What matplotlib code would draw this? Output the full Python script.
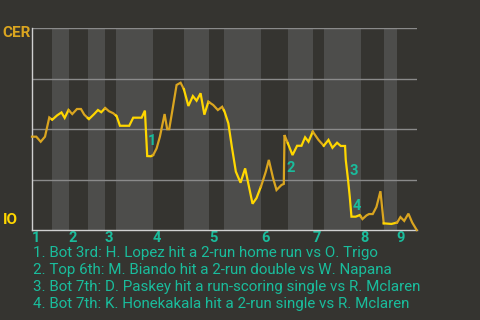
import matplotlib
matplotlib.use('Agg')
import matplotlib.pyplot as plt
import numpy as np

plt.rcParams['font.family'] = ['Roboto', 'DejaVu Sans']

# ---- data ----
half_starts = [0, 20, 37, 56, 73, 84, 121, 152, 177, 192, 229, 256, 281, 292, 329, 352, 365]
game_end = 385
inning_labels = ['1', '2', '3', '4', '5', '6', '7', '8', '9']

progress = [0, 4.3, 8.7, 13, 17.3, 20.3, 25, 29.5, 32.7, 36.5, 40.3, 45, 49, 52.3, 57, 62, 66,
            69.3, 73.3, 77, 81.3, 84.7, 88, 97.3, 101.3, 109.7, 113, 115.3, 119, 121.3, 124.7,
            128, 132.7, 135.3, 137.3, 140, 144.7, 148.7, 152, 156.5, 161, 164.7, 168.7, 172.5,
            176.5, 181.3, 186, 190.3, 192.7, 196.5, 200, 204, 208.7, 213.3, 220.7, 224.7, 229.7,
            234, 237, 241.3, 244.7, 249.7, 252, 252.7, 254.7, 260.7, 265.3, 269.7, 273.3, 276.7,
            281, 286.7, 292, 296.7, 300.7, 305.3, 309, 313.3, 314, 316.3, 318, 319.7, 324, 328,
            330.7, 334.7, 337.3, 341, 344.7, 348.7, 352, 359.7, 365.5, 368.7, 372.5, 376.7,
            380.5, 385]
cer_win_pct = [46.2, 46.2, 43.7, 46.2, 55.7, 54.6, 56.7, 58.2, 55.5, 59.4, 57.4, 59.9, 59.9,
               57.1, 54.9, 57.3, 59.4, 58.3, 60.4, 58.8, 57.8, 56.4, 51.6, 51.6, 55.6, 55.6,
               59.1, 36.6, 36.5, 37.1, 40.4, 46.2, 57.4, 49.9, 49.9, 57.8, 71.8, 72.9, 69.7,
               61.4, 66.3, 64.0, 67.7, 57.1, 63.5, 61.9, 59.4, 61.0, 58.6, 52.8, 41.2, 28.9,
               23.4, 30.5, 13.0, 15.8, 22.3, 28.9, 34.7, 25.6, 19.8, 22.3, 22.8, 47.0, 44.6,
               37.1, 41.7, 41.7, 45.9, 43.7, 48.7, 44.6, 41.7, 44.6, 40.7, 43.2, 41.6, 41.6,
               34.7, 24.8, 16.5, 6.6, 6.6, 7.4, 5.4, 7.2, 7.9, 7.9, 11.4, 19.2, 3.3, 3.0, 3.7,
               6.4, 4.5, 8.1, 3.7, 0.0]

event_ids = ['1', '2', '3', '4']
event_x = [114.5, 252.5, 316.0, 319.0]
event_y = [48.0, 34.7, 33.2, 15.8]
event_text = [
    '1. Bot 3rd: H. Lopez hit a 2-run home run vs O. Trigo',
    '2. Top 6th: M. Biando hit a 2-run double vs W. Napana',
    '3. Bot 7th: D. Paskey hit a run-scoring single vs R. Mclaren',
    '4. Bot 7th: K. Honekakala hit a 2-run single vs R. Mclaren',
]
team_top = 'CER'
team_bottom = 'IO'

# ---- style ----
BG = '#353430'
BAND = '#4d4d4b'
GRID = '#8a8a8a'
AXIS = '#d0d0d0'
TEAL = '#1abc9c'
GOLD_TOP = '#daa520'
GOLD_BOT = '#ffd700'

fig = plt.figure(figsize=(4.8, 3.2), dpi=100, facecolor=BG)
ax = fig.add_axes([32 / 480, 1 - 230 / 320, (416.7 - 32) / 480, (230 - 28) / 320])
ax.set_facecolor(BG)
ax.set_xlim(0, game_end)
ax.set_ylim(0, 100)

bounds = half_starts + [game_end]
for i in range(len(half_starts)):
    if i % 2 == 1:
        ax.axvspan(bounds[i], bounds[i + 1], color=BAND, lw=0, zorder=0.5)

for yv in [25, 50, 75, 100]:
    ax.axhline(yv, color=GRID, lw=1.0, zorder=1.5)

x = np.array(progress, dtype=float)
y = np.array(cer_win_pct, dtype=float)
for i in range(len(half_starts)):
    s, e = bounds[i], bounds[i + 1]
    m = (x > s) & (x < e)
    xs = np.concatenate([[s], x[m], [e]])
    ys = np.interp(xs, x, y)
    ax.plot(xs, ys, color=GOLD_TOP if i % 2 == 0 else GOLD_BOT, lw=1.6,
            solid_joinstyle='miter', zorder=3, clip_on=False)

for lab, ex, ey in zip(event_ids, event_x, event_y):
    ax.annotate(lab, (ex, ey), xytext=(6, -8), textcoords='offset pixels',
                ha='center', va='center', color=TEAL, fontsize=10.5, fontweight='bold', zorder=4)

for side in ['top', 'right']:
    ax.spines[side].set_visible(False)
for side in ['left', 'bottom']:
    ax.spines[side].set_color(AXIS)
    ax.spines[side].set_linewidth(1.0)

ax.set_yticks([])
ax.set_xticks(half_starts[::2])
ax.set_xticklabels(inning_labels, ha='left', color=TEAL, fontsize=10.5, fontweight='bold')
ax.tick_params(axis='x', length=0, pad=1)

fig.text(2 / 480, 1 - 33 / 320, team_top, ha='left', va='center', color=GOLD_TOP,
         fontsize=11, fontweight='bold')
fig.text(3 / 480, 1 - 220 / 320, team_bottom, ha='left', va='center', color=GOLD_BOT,
         fontsize=11, fontweight='bold')

for k, t in enumerate(event_text):
    fig.text(33 / 480, 1 - (253 + 17 * k) / 320, t, ha='left', va='center', color=TEAL,
             fontsize=10.9)

fig.savefig('out.png', dpi=100, facecolor=BG)
